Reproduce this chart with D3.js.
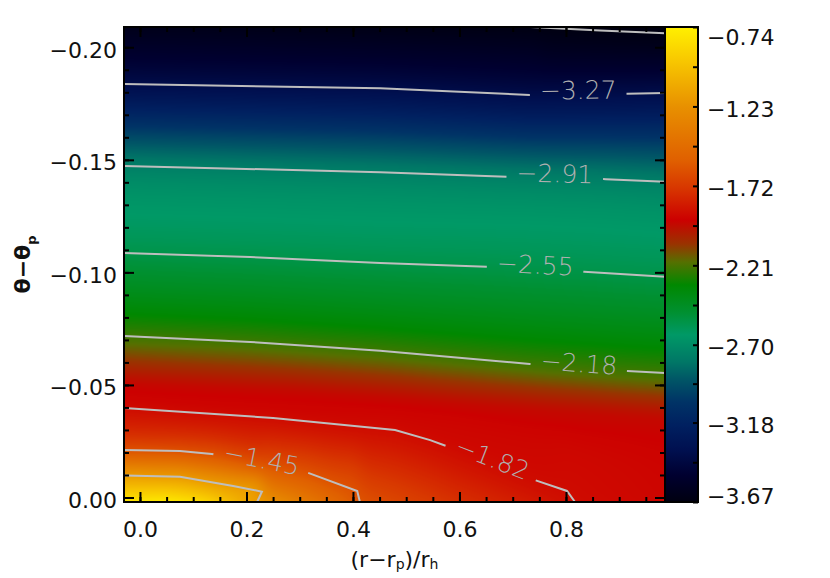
<!DOCTYPE html>
<html>
<head>
<meta charset="utf-8">
<style>
  body { margin: 0; background: #fff; }
  svg { display: block; font-family: 'DejaVu Sans', sans-serif; }
  .axis text { font-family: 'DejaVu Sans', sans-serif; font-size: 22px; fill: #111; }
  .axis line { stroke: #000; stroke-width: 2px; }
  .axis .domain { display: none; }
  .clabel { font-family: 'DejaVu Sans', sans-serif; font-size: 25px; font-weight: 200; fill: #b0b0b0; }
  .cline { fill: none; stroke: #bebebe; stroke-width: 2px; }
</style>
</head>
<body>
<svg id="chart" width="830" height="578"></svg>
<script src="https://d3js.org/d3.v7.min.js"></script>
<script>
// contour levels, traced paths ([x, y] in data units) and where each label sits
var levels = [-3.64, -3.27, -2.91, -2.55, -2.18, -1.82, -1.45, -1.09];
var c364 = [[0.734, -0.2090], [0.864, -0.2075], [0.986, -0.2062]];
var c327 = [[-0.030, -0.1837], [0.451, -0.1818], [0.732, -0.1788], [0.915, -0.1793], [0.986, -0.1797]];
var c291 = [[-0.030, -0.1473], [0.451, -0.1445], [0.691, -0.1425], [0.875, -0.1414], [0.986, -0.1403]];
var c255 = [[-0.030, -0.1086], [0.207, -0.1068], [0.451, -0.1042], [0.652, -0.1025], [0.834, -0.1003], [0.986, -0.0981]];
var c218 = [[-0.030, -0.0717], [0.207, -0.0691], [0.451, -0.0652], [0.732, -0.0593], [0.915, -0.0562], [0.986, -0.0553]];
var c182 = [[-0.030, -0.0398], [0.250, -0.0353], [0.479, -0.0300], [0.545, -0.0255], [0.575, -0.0229], [0.657, -0.0158], [0.736, -0.0082], [0.802, -0.0029], [0.817, 0.0020]];
var c145 = [[-0.030, -0.0211], [0.075, -0.0207], [0.135, -0.0193], [0.223, -0.0153], [0.312, -0.0113], [0.408, -0.0029], [0.413, 0.0020]];
var c109 = [[-0.030, -0.0098], [0.075, -0.0092], [0.175, -0.0051], [0.229, -0.0026], [0.220, 0.0020]];
var contourPaths = [c364, c327, c291, c255, c218, c182, c145, c109];
var labelAt = [null, 0.823, 0.779, 0.742, 0.824, 0.659, 0.227, null];

// value of the shading found along each contour
var shadeV = [-3.66, -3.38, -2.77, -2.56, -2.23, -1.89, -1.62, -1.18];

// unlabelled ridge of the deepest red
var ridgeShade = -1.95;
var ridge = [[-0.030, -0.0504], [0.300, -0.0464], [0.488, -0.0433], [0.751, -0.0375], [0.986, -0.0331]];

// shading along the top and bottom edges
var topX = [-0.030, 0.734, 0.986];
var topV = [-3.62, -3.66, -3.67];
var botX = [-0.030, 0.050, 0.120, 0.220, 0.413, 0.600, 0.817, 0.986];
var botV = [-0.80, -0.77, -0.86, -1.18, -1.62, -1.76, -1.89, -1.91];

// axes
var xMajor = [0, 0.2, 0.4, 0.6, 0.8];
var xMinor = [0, 0.05, 0.1, 0.15, 0.2, 0.25, 0.3, 0.35, 0.4, 0.45, 0.5, 0.55, 0.6, 0.65, 0.7, 0.75, 0.8, 0.85, 0.9, 0.95];
var yMajor = [-0.20, -0.15, -0.10, -0.05, 0];
var yMinor = d3.range(-20, 1).map(function(i) { return i / 100; });
var cbTicks = [-3.67, -3.18, -2.70, -2.21, -1.72, -1.23, -0.74];

// colour table (position 0..1 along the bar)
var cmapT = [0, 0.057, 0.11, 0.162, 0.21, 0.257, 0.295, 0.352, 0.40, 0.457, 0.505, 0.543, 0.594, 0.663, 0.72, 0.832, 0.93, 1];
var cmapC = ['#000010', '#000030', '#001050', '#002060', '#003366', '#005566', '#007766', '#009966', '#009030',
  '#008800', '#557000', '#993300', '#cc0000', '#d83800', '#e06000', '#e89000', '#f8c800', '#fff000'];

var plot = { left: 124, right: 665, top: 27, bottom: 502 };
var cbar = { left: 665, right: 698 };
var cbMin = -3.67, cbMax = -0.74;

var svg = d3.select('#chart');

var x = d3.scaleLinear().domain([-0.03, 0.986]).range([plot.left, plot.right]);
var y = d3.scaleLinear().domain([0.002, -0.209]).range([plot.bottom, plot.top]);
var cy = d3.scaleLinear().domain([cbMin, cbMax]).range([plot.bottom, plot.top]);

var color = d3.scaleLinear()
  .domain(cmapT.map(function(t) { return cbMin + t * (cbMax - cbMin); }))
  .range(cmapC)
  .clamp(true);

var topF = d3.scaleLinear().domain(topX).range(topV);
var botF = d3.scaleLinear().domain(botX).range(botV);

function toPx(pts) {
  return pts.map(function(p) { return [x(p[0]), y(p[1])]; });
}

function crossAt(pts, px) {
  for (var i = 0; i < pts.length - 1; i++) {
    var a = pts[i], b = pts[i + 1];
    var lo = Math.min(a[0], b[0]), hi = Math.max(a[0], b[0]);
    if (hi > lo && px >= lo && px <= hi) {
      return a[1] + (b[1] - a[1]) * (px - a[0]) / (b[0] - a[0]);
    }
  }
  return null;
}

// monotone cubic through the anchors of one column
function monotone(xs, ys) {
  var n = xs.length, d = [], m = [], i;
  for (i = 0; i < n - 1; i++) d[i] = (ys[i + 1] - ys[i]) / (xs[i + 1] - xs[i]);
  m[0] = d[0];
  m[n - 1] = d[n - 2];
  for (i = 1; i < n - 1; i++) m[i] = d[i - 1] * d[i] <= 0 ? 0 : (d[i - 1] + d[i]) / 2;
  for (i = 0; i < n - 1; i++) {
    if (d[i] === 0) { m[i] = m[i + 1] = 0; continue; }
    var a = m[i] / d[i], b = m[i + 1] / d[i], s = a * a + b * b;
    if (s > 9) {
      var t = 3 / Math.sqrt(s);
      m[i] = t * a * d[i];
      m[i + 1] = t * b * d[i];
    }
  }
  return function(v) {
    var k = 0;
    while (k < n - 2 && v > xs[k + 1]) k++;
    var h = xs[k + 1] - xs[k], t = (v - xs[k]) / h;
    var t2 = t * t, t3 = t2 * t;
    return (2 * t3 - 3 * t2 + 1) * ys[k] + (t3 - 2 * t2 + t) * h * m[k] +
      (-2 * t3 + 3 * t2) * ys[k + 1] + (t3 - t2) * h * m[k + 1];
  };
}

// shaded field: columns through the contour crossings, then smoothed sideways
var isoPx = contourPaths.map(toPx).concat([toPx(ridge)]);
var isoV = shadeV.concat([ridgeShade]);

var W = plot.right - plot.left, H = plot.bottom - plot.top;
var field = new Float64Array(W * H);

for (var c = 0; c < W; c++) {
  var px = plot.left + c + 0.5;
  var anchors = [[plot.top, topF(x.invert(px))], [plot.bottom, botF(x.invert(px))]];
  isoPx.forEach(function(pts, k) {
    var py = crossAt(pts, px);
    if (py !== null) anchors.push([py, isoV[k]]);
  });
  anchors.sort(function(a, b) { return a[0] - b[0]; });
  var ax = [], av = [];
  anchors.forEach(function(a) {
    if (ax.length && a[0] - ax[ax.length - 1] < 0.5) return;
    ax.push(a[0]);
    av.push(a[1]);
  });
  var f = monotone(ax, av);
  for (var r = 0; r < H; r++) field[r * W + c] = f(plot.top + r + 0.5);
}

var sigma = 7, rad = 20, kern = [], ksum = 0;
for (var k = -rad; k <= rad; k++) {
  var wk = Math.exp(-k * k / (2 * sigma * sigma));
  kern.push(wk);
  ksum += wk;
}
var smooth = new Float64Array(W * H);
for (var r = 0; r < H; r++) {
  for (var c = 0; c < W; c++) {
    var acc = 0;
    for (var k = -rad; k <= rad; k++) {
      var cc = Math.min(W - 1, Math.max(0, c + k));
      acc += kern[k + rad] * field[r * W + cc];
    }
    smooth[r * W + c] = acc / ksum;
  }
}

var lut = d3.range(1024).map(function(i) {
  return d3.rgb(color(cbMin + (cbMax - cbMin) * i / 1023));
});

var canvas = document.createElement('canvas');
canvas.width = W;
canvas.height = H;
var ctx = canvas.getContext('2d');
var img = ctx.createImageData(W, H);
for (var i = 0; i < W * H; i++) {
  var li = Math.max(0, Math.min(1023, Math.round((smooth[i] - cbMin) / (cbMax - cbMin) * 1023)));
  var col = lut[li];
  img.data[i * 4] = col.r;
  img.data[i * 4 + 1] = col.g;
  img.data[i * 4 + 2] = col.b;
  img.data[i * 4 + 3] = 255;
}
ctx.putImageData(img, 0, 0);

svg.append('image')
  .attr('x', plot.left)
  .attr('y', plot.top)
  .attr('width', W)
  .attr('height', H)
  .attr('preserveAspectRatio', 'none')
  .attr('href', canvas.toDataURL());

// contour lines with gaps for labels
var fmt = d3.format('.2f');
var lineGen = d3.line();
var cg = svg.append('g');

function arcLengths(pts) {
  var s = [0];
  for (var i = 1; i < pts.length; i++) {
    s.push(s[i - 1] + Math.hypot(pts[i][0] - pts[i - 1][0], pts[i][1] - pts[i - 1][1]));
  }
  return s;
}

function pointAt(pts, s, len) {
  for (var i = 0; i < pts.length - 1; i++) {
    if (len <= s[i + 1] || i === pts.length - 2) {
      var t = (len - s[i]) / (s[i + 1] - s[i]);
      return [pts[i][0] + t * (pts[i + 1][0] - pts[i][0]), pts[i][1] + t * (pts[i + 1][1] - pts[i][1])];
    }
  }
}

function slicePath(pts, s, a, b) {
  var out = [pointAt(pts, s, a)];
  for (var i = 0; i < pts.length; i++) if (s[i] > a && s[i] < b) out.push(pts[i]);
  out.push(pointAt(pts, s, b));
  return out;
}

contourPaths.forEach(function(path, k) {
  var pts = toPx(path);
  if (labelAt[k] === null) {
    cg.append('path').attr('class', 'cline').attr('d', lineGen(pts));
    return;
  }
  var s = arcLengths(pts), total = s[s.length - 1];
  var lx = x(labelAt[k]), s0 = 0;
  for (var i = 0; i < pts.length - 1; i++) {
    if (lx >= pts[i][0] && lx <= pts[i + 1][0]) {
      s0 = s[i] + (s[i + 1] - s[i]) * (lx - pts[i][0]) / (pts[i + 1][0] - pts[i][0]);
      break;
    }
  }
  var label = cg.append('text')
    .attr('class', 'clabel')
    .attr('text-anchor', 'middle')
    .attr('dy', '0.18em')
    .text(fmt(levels[k]));
  var g = label.node().getComputedTextLength() / 2 + 10;
  var p1 = pointAt(pts, s, s0 - g), p2 = pointAt(pts, s, s0 + g), pc = pointAt(pts, s, s0);
  var ang = Math.atan2(p2[1] - p1[1], p2[0] - p1[0]) * 180 / Math.PI;
  label.attr('transform', 'translate(' + pc[0] + ',' + pc[1] + ') rotate(' + ang + ')');
  cg.append('path').attr('class', 'cline').attr('d', lineGen(slicePath(pts, s, 0, s0 - g)));
  cg.append('path').attr('class', 'cline').attr('d', lineGen(slicePath(pts, s, s0 + g, total)));
});

// colour bar
var grad = svg.append('defs').append('linearGradient')
  .attr('id', 'cbgrad')
  .attr('x1', 0).attr('y1', 1).attr('x2', 0).attr('y2', 0);
grad.selectAll('stop')
  .data(cmapT)
  .enter().append('stop')
  .attr('offset', function(d) { return d; })
  .attr('stop-color', function(d, i) { return cmapC[i]; });

svg.append('rect')
  .attr('x', cbar.left)
  .attr('y', plot.top)
  .attr('width', cbar.right - cbar.left)
  .attr('height', H)
  .style('fill', 'url(#cbgrad)');

// axes: ticks point inward on all four sides
function addAxis(axis, tx, ty) {
  return svg.append('g')
    .attr('class', 'axis')
    .attr('transform', 'translate(' + tx + ',' + ty + ')')
    .call(axis);
}

addAxis(d3.axisBottom(x).tickValues(xMinor).tickSize(-5).tickFormat(''), 0, plot.bottom);
addAxis(d3.axisBottom(x).tickValues(xMajor).tickSize(-10).tickPadding(19).tickFormat(d3.format('.1f')), 0, plot.bottom);
addAxis(d3.axisTop(x).tickValues(xMinor).tickSize(-5).tickFormat(''), 0, plot.top);
addAxis(d3.axisTop(x).tickValues(xMajor).tickSize(-10).tickFormat(''), 0, plot.top);

addAxis(d3.axisLeft(y).tickValues(yMinor).tickSize(-5).tickFormat(''), plot.left, 0);
addAxis(d3.axisLeft(y).tickValues(yMajor).tickSize(-10).tickPadding(7).tickFormat(d3.format('.2f')), plot.left, 0)
  .selectAll('text').attr('dy', null).attr('y', 10);
addAxis(d3.axisRight(y).tickValues(yMinor).tickSize(-5).tickFormat(''), plot.right, 0);
addAxis(d3.axisRight(y).tickValues(yMajor).tickSize(-10).tickFormat(''), plot.right, 0);

var cbMinor = d3.pairs(cbTicks).map(function(p) { return (p[0] + p[1]) / 2; });
addAxis(d3.axisRight(cy).tickValues(cbMinor).tickSize(-5).tickFormat(''), cbar.right, 0);
addAxis(d3.axisRight(cy).tickValues(cbTicks).tickSize(-5).tickPadding(9).tickFormat(fmt), cbar.right, 0)
  .selectAll('text')
  .attr('dy', null)
  .attr('y', function(d) {
    var py = cy(d);
    return Math.min(Math.max(py + 10, plot.top + 17), plot.bottom + 1) - py;
  });

// frames
svg.append('rect')
  .attr('x', plot.left).attr('y', plot.top)
  .attr('width', W).attr('height', H)
  .style('fill', 'none').style('stroke', '#000').style('stroke-width', 2);
svg.append('rect')
  .attr('x', cbar.left).attr('y', plot.top)
  .attr('width', cbar.right - cbar.left).attr('height', H)
  .style('fill', 'none').style('stroke', '#000').style('stroke-width', 2);

// titles
var xt = svg.append('text')
  .attr('x', (plot.left + plot.right) / 2)
  .attr('y', 567)
  .attr('text-anchor', 'middle')
  .style('font-size', '22px')
  .style('fill', '#111');
xt.append('tspan').text('(r\u2212r');
xt.append('tspan').attr('dy', 2).style('font-size', '14px').text('p');
xt.append('tspan').attr('dy', -2).text(')/r');
xt.append('tspan').attr('dy', 2).style('font-size', '14px').text('h');

var yt = svg.append('text')
  .attr('transform', 'translate(30,' + (plot.top + plot.bottom) / 2 + ') rotate(-90)')
  .attr('text-anchor', 'middle')
  .style('font-size', '22px')
  .style('font-weight', 'bold')
  .style('fill', '#111');
yt.append('tspan').text('\u03b8\u2212\u03b8');
yt.append('tspan').attr('dy', 6).style('font-size', '13px').text('p');
</script>
</body>
</html>
